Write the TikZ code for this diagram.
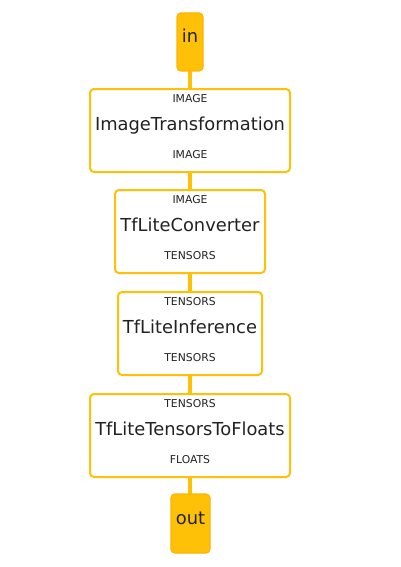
\documentclass[tikz,border=0pt]{standalone}
\usepackage{fontspec}
\setmainfont{DejaVu Sans}
\definecolor{amber}{HTML}{FFC107}
\definecolor{amberdark}{HTML}{FFB300}
\definecolor{txt}{HTML}{222222}
\begin{document}
\begin{tikzpicture}[x=0.75pt,y=-0.75pt,
 stepbox/.style={draw=amber, line width=1.5pt, fill=white, rounded corners=3pt, inner sep=0pt, outer sep=0pt},
 endbox/.style={draw=amberdark, line width=0.9pt, fill=amber, rounded corners=3pt, inner sep=0pt, outer sep=0pt},
 title/.style={font=\fontsize{13.4}{16}\selectfont, text=txt, anchor=base, inner sep=0pt},
 tag/.style={font=\fontsize{8.1}{9}\selectfont, text=txt, anchor=base, inner sep=0pt},
 link/.style={draw=amber, line width=2.4pt}]
\useasboundingbox (0,0) rectangle (400,567);
% links first
\coordinate (c0) at (190,71);
\coordinate (c1t) at (190,89);
\coordinate (c1b) at (190,172);
\coordinate (c2t) at (190,190);
\coordinate (c2b) at (190,273);
\coordinate (c3t) at (190,292);
\coordinate (c3b) at (190,375);
\coordinate (c4t) at (190,394);
\coordinate (c4b) at (190,477);
\coordinate (c5) at (190,494);
\draw[link] (c0) -- (c1t);
\draw[link] (c1b) -- (c2t);
\draw[link] (c2b) -- (c3t);
\draw[link] (c3b) -- (c4t);
\draw[link] (c4b) -- (c5);
% in
\node[endbox, minimum width=19.5pt, minimum height=43.5pt] (in) at (190,42) {};
\node[title] (intext) at (190,42.3) {in};
% box 1
\node[stepbox, minimum width=150pt, minimum height=62.25pt] (b1) at (190,130.5) {};
\node[tag] (b1top) at (190,102) {IMAGE};
\node[title] (b1name) at (190,130.7) {ImageTransformation};
\node[tag] (b1bot) at (190,158.3) {IMAGE};
% box 2
\node[stepbox, minimum width=112.5pt, minimum height=62.25pt] (b2) at (190,231.5) {};
\node[tag] (b2top) at (190,203) {IMAGE};
\node[title] (b2name) at (190,231.7) {TfLiteConverter};
\node[tag] (b2bot) at (190,259.3) {TENSORS};
% box 3
\node[stepbox, minimum width=108pt, minimum height=62.25pt] (b3) at (190,333.5) {};
\node[tag] (b3top) at (190,305) {TENSORS};
\node[title] (b3name) at (190,333.7) {TfLiteInference};
\node[tag] (b3bot) at (190,361.3) {TENSORS};
% box 4
\node[stepbox, minimum width=150pt, minimum height=62.25pt] (b4) at (190,435.5) {};
\node[tag] (b4top) at (190,407) {TENSORS};
\node[title] (b4name) at (190,435.5) {TfLiteTensorsToFloats};
\node[tag] (b4bot) at (190,463.3) {FLOATS};
% out
\node[endbox, minimum width=29.25pt, minimum height=44.25pt] (out) at (190.5,523.5) {};
\node[title] (outtext) at (190.5,524.3) {out};
\end{tikzpicture}
\end{document}
